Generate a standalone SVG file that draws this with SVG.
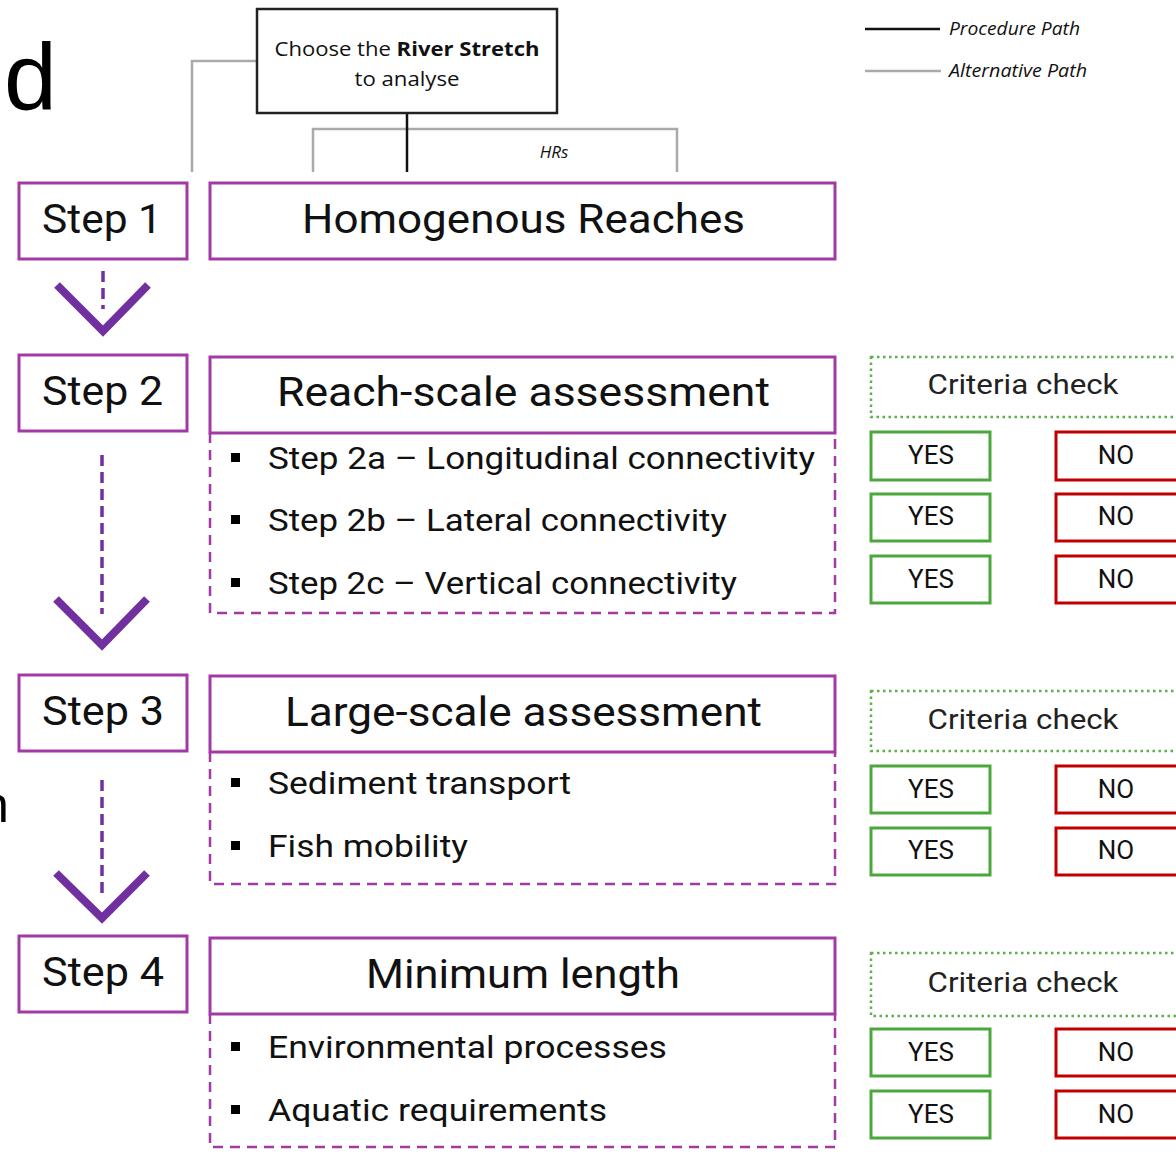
<svg xmlns="http://www.w3.org/2000/svg" width="1176" height="1156" viewBox="0 0 1176 1156">
<style>
.step{fill:#fff;stroke:#A23AA6;stroke-width:3}
.dash{fill:none;stroke:#A23AA6;stroke-width:2.5;stroke-dasharray:10 7}
.t{font-family:Roboto,Inter,"Liberation Sans",sans-serif;fill:#111}
.big{font-size:40px}
.item{font-size:31px}
.cc{fill:#fff;stroke:#5DB04A;stroke-width:2.5;stroke-dasharray:2.5 3.5}
.yes{fill:#fff;stroke:#4CA83C;stroke-width:3}
.no{fill:#fff;stroke:#C00000;stroke-width:3}
.yn{font-family:Roboto,Inter,"Liberation Sans",sans-serif;font-size:26px;fill:#111;text-anchor:middle}
.ccT{font-family:Roboto,Inter,"Liberation Sans",sans-serif;font-size:28px;fill:#222;text-anchor:middle}
.my{font-family:"Open Sans","Noto Sans",sans-serif;fill:#111}
.arr{fill:none;stroke:#7030A0;stroke-width:8;stroke-linejoin:miter}
.arrd{fill:none;stroke:#7030A0;stroke-width:3.5;stroke-dasharray:11 6}
</style>
<rect width="1176" height="1156" fill="#fff"/>

<text x="4" y="110" font-family="Liberation Sans,Arial,sans-serif" font-size="95" fill="#000">d</text>
<text x="-19" y="822" font-family="Liberation Sans,Arial,sans-serif" font-size="50" fill="#000">n</text>

<g id="connectors">
  <polyline points="257,61 192,61 192,172" fill="none" stroke="#aaa" stroke-width="2.5"/>
  <polyline points="313,172 313,129 677,129 677,172" fill="none" stroke="#aaa" stroke-width="2.5"/>
  <line x1="407" y1="113" x2="407" y2="172" stroke="#111" stroke-width="2.5"/>
  <line x1="103" y1="271" x2="103" y2="309" class="arrd"/>
  <polyline points="57,285 103,331 148,285" class="arr"/>
  <line x1="102" y1="455" x2="102" y2="614" class="arrd"/>
  <polyline points="56,599 102,645 147,599" class="arr"/>
  <line x1="102" y1="780" x2="102" y2="898" class="arrd"/>
  <polyline points="56,873 102,918 147,873" class="arr"/>
</g>

<g id="river-stretch">
  <rect x="257" y="9" width="300" height="104" fill="#fff" stroke="#222" stroke-width="2.5"/>
  <text class="my" x="407" y="56" font-size="20" text-anchor="middle" textLength="265" lengthAdjust="spacingAndGlyphs">Choose the <tspan font-weight="bold">River Stretch</tspan></text>
  <text class="my" x="407" y="86" font-size="20" text-anchor="middle" textLength="105" lengthAdjust="spacingAndGlyphs">to analyse</text>
</g>
<text id="hrs" class="my" x="554" y="158" font-size="17" font-style="italic" text-anchor="middle">HRs</text>

<g id="legend">
  <line x1="865" y1="29" x2="940" y2="29" stroke="#111" stroke-width="2.5"/>
  <text class="my" x="949" y="35" font-size="19" font-style="italic" textLength="131" lengthAdjust="spacingAndGlyphs">Procedure Path</text>
  <line x1="865" y1="71" x2="941" y2="71" stroke="#aaa" stroke-width="2.5"/>
  <text class="my" x="949" y="77" font-size="19" font-style="italic" textLength="138" lengthAdjust="spacingAndGlyphs">Alternative Path</text>
</g>

<g id="step1">
  <rect class="step" x="19" y="183" width="168" height="76"/>
  <text class="t big" x="42" y="233" textLength="120" lengthAdjust="spacingAndGlyphs">Step 1</text>
</g>
<g id="homogenous-reaches">
  <rect class="step" x="210" y="183" width="625" height="76"/>
  <text class="t big" x="302" y="233" textLength="443" lengthAdjust="spacingAndGlyphs">Homogenous Reaches</text>
</g>

<g id="step2">
  <rect class="step" x="19" y="355" width="168" height="76"/>
  <text class="t big" x="42" y="405" textLength="121" lengthAdjust="spacingAndGlyphs">Step 2</text>
</g>
<g id="reach-scale">
  <path class="dash" d="M210,433 V613 H835 V433"/>
  <rect class="step" x="210" y="357" width="625" height="76"/>
  <text class="t big" x="277" y="406" textLength="493" lengthAdjust="spacingAndGlyphs">Reach-scale assessment</text>
  <rect x="231" y="453" width="9" height="9" fill="#000"/>
  <text class="t item" x="268" y="469" textLength="547" lengthAdjust="spacingAndGlyphs">Step 2a – Longitudinal connectivity</text>
  <rect x="231" y="515" width="9" height="9" fill="#000"/>
  <text class="t item" x="268" y="531" textLength="459" lengthAdjust="spacingAndGlyphs">Step 2b – Lateral connectivity</text>
  <rect x="231" y="578" width="9" height="9" fill="#000"/>
  <text class="t item" x="268" y="594" textLength="469" lengthAdjust="spacingAndGlyphs">Step 2c – Vertical connectivity</text>
</g>
<g id="criteria2">
  <rect class="cc" x="871" y="357" width="310" height="60"/>
  <text class="ccT" x="1023" y="394" textLength="191" lengthAdjust="spacingAndGlyphs">Criteria check</text>
  <rect class="yes" x="871" y="432" width="119" height="48"/><text class="yn" x="931" y="464">YES</text>
  <rect class="no" x="1056" y="432" width="125" height="48"/><text class="yn" x="1116" y="464">NO</text>
  <rect class="yes" x="871" y="494" width="119" height="47"/><text class="yn" x="931" y="525">YES</text>
  <rect class="no" x="1056" y="494" width="125" height="47"/><text class="yn" x="1116" y="525">NO</text>
  <rect class="yes" x="871" y="556" width="119" height="47"/><text class="yn" x="931" y="588">YES</text>
  <rect class="no" x="1056" y="556" width="125" height="47"/><text class="yn" x="1116" y="588">NO</text>
</g>

<g id="step3">
  <rect class="step" x="19" y="675" width="168" height="76"/>
  <text class="t big" x="42" y="725" textLength="122" lengthAdjust="spacingAndGlyphs">Step 3</text>
</g>
<g id="large-scale">
  <path class="dash" d="M210,752 V884 H835 V752"/>
  <rect class="step" x="210" y="676" width="625" height="76"/>
  <text class="t big" x="285" y="726" textLength="477" lengthAdjust="spacingAndGlyphs">Large-scale assessment</text>
  <rect x="231" y="778" width="9" height="9" fill="#000"/>
  <text class="t item" x="268" y="794" textLength="303" lengthAdjust="spacingAndGlyphs">Sediment transport</text>
  <rect x="231" y="841" width="9" height="9" fill="#000"/>
  <text class="t item" x="268" y="857" textLength="200" lengthAdjust="spacingAndGlyphs">Fish mobility</text>
</g>
<g id="criteria3">
  <rect class="cc" x="871" y="691" width="310" height="60"/>
  <text class="ccT" x="1023" y="729" textLength="191" lengthAdjust="spacingAndGlyphs">Criteria check</text>
  <rect class="yes" x="871" y="766" width="119" height="47"/><text class="yn" x="931" y="798">YES</text>
  <rect class="no" x="1056" y="766" width="125" height="47"/><text class="yn" x="1116" y="798">NO</text>
  <rect class="yes" x="871" y="828" width="119" height="47"/><text class="yn" x="931" y="859">YES</text>
  <rect class="no" x="1056" y="828" width="125" height="47"/><text class="yn" x="1116" y="859">NO</text>
</g>

<g id="step4">
  <rect class="step" x="19" y="936" width="168" height="76"/>
  <text class="t big" x="42" y="986" textLength="122" lengthAdjust="spacingAndGlyphs">Step 4</text>
</g>
<g id="minimum-length">
  <path class="dash" d="M210,1014 V1147 H835 V1014"/>
  <rect class="step" x="210" y="938" width="625" height="76"/>
  <text class="t big" x="366" y="988" textLength="314" lengthAdjust="spacingAndGlyphs">Minimum length</text>
  <rect x="231" y="1042" width="9" height="9" fill="#000"/>
  <text class="t item" x="268" y="1058" textLength="399" lengthAdjust="spacingAndGlyphs">Environmental processes</text>
  <rect x="231" y="1105" width="9" height="9" fill="#000"/>
  <text class="t item" x="268" y="1121" textLength="339" lengthAdjust="spacingAndGlyphs">Aquatic requirements</text>
</g>
<g id="criteria4">
  <rect class="cc" x="871" y="953" width="310" height="63"/>
  <text class="ccT" x="1023" y="992" textLength="191" lengthAdjust="spacingAndGlyphs">Criteria check</text>
  <rect class="yes" x="871" y="1029" width="119" height="47"/><text class="yn" x="931" y="1061">YES</text>
  <rect class="no" x="1056" y="1029" width="125" height="47"/><text class="yn" x="1116" y="1061">NO</text>
  <rect class="yes" x="871" y="1091" width="119" height="47"/><text class="yn" x="931" y="1123">YES</text>
  <rect class="no" x="1056" y="1091" width="125" height="47"/><text class="yn" x="1116" y="1123">NO</text>
</g>
</svg>
